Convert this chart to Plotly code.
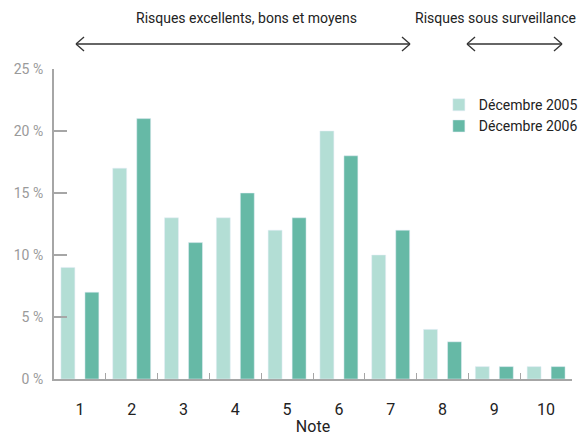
import plotly.graph_objects as go

categories = ["1", "2", "3", "4", "5", "6", "7", "8", "9", "10"]
dec_2005 = [9, 17, 13, 13, 12, 20, 10, 4, 1, 1]
dec_2006 = [7, 21, 11, 15, 13, 18, 12, 3, 1, 1]
y_tick_vals = [0, 5, 10, 15, 20, 25]
y_tick_text = ["0 %", "5 %", "10 %", "15 %", "20 %", "25 %"]

FONT = "Roboto, Liberation Sans, sans-serif"
LIGHT = "#b3ded5"
DARK = "#66b9a6"
AXIS = "#a6a6a6"

L, R, T, B = 54, 13, 69, 57
W, H = 585, 436
PW, PH = W - L - R, H - T - B

fig = go.Figure()
fig.add_bar(x=categories, y=dec_2005, name="Décembre 2005", marker_color=LIGHT)
fig.add_bar(x=categories, y=dec_2006, name="Décembre 2006", marker_color=DARK)

fig.update_layout(
    width=W, height=H,
    margin=dict(l=L, r=R, t=T, b=B, autoexpand=False),
    paper_bgcolor="white", plot_bgcolor="white",
    barmode="group", bargap=0.073, bargroupgap=0.42,
    font=dict(family=FONT, size=14, color="#222"),
    showlegend=True,
    legend=dict(x=0.743, y=0.935, xanchor="left", yanchor="top",
                font=dict(family=FONT, size=14, color="#222"),
                bgcolor="rgba(0,0,0,0)", itemwidth=30, tracegroupgap=4),
)
fig.update_xaxes(
    type="category", tickson="boundaries", ticks="inside", ticklen=6,
    tickcolor=AXIS, showline=True, linecolor=AXIS, linewidth=2, automargin=False,
    showgrid=False, tickfont=dict(family=FONT, size=16, color="#222"),
    ticklabelstandoff=15,
    title=dict(text="Note", font=dict(family=FONT, size=16, color="#222"), standoff=11),
)
fig.update_yaxes(
    range=[0, 25], tickvals=y_tick_vals, ticktext=y_tick_text, automargin=False,
    ticks="inside", ticklen=13, tickcolor=AXIS, tickwidth=2,
    showline=True, linecolor=AXIS, linewidth=2, showgrid=False, zeroline=False,
    tickfont=dict(family=FONT, size=14, color="#9a9a9a"), ticklabelstandoff=6,
)

# Top annotations with double-headed open arrows (positions in page pixels -> paper)
def px_x(px):
    return (px - L) / PW

def px_y(py):
    return (H - B - py) / PH

def double_arrow(x0, x1, y):
    col = "#333"
    w = 1.3
    return [
        dict(type="line", xref="paper", yref="paper", x0=px_x(x0), x1=px_x(x1), y0=px_y(y), y1=px_y(y), line=dict(color=col, width=w)),
        dict(type="line", xref="paper", yref="paper", x0=px_x(x0), x1=px_x(x0 + 8), y0=px_y(y), y1=px_y(y - 7), line=dict(color=col, width=w)),
        dict(type="line", xref="paper", yref="paper", x0=px_x(x0), x1=px_x(x0 + 8), y0=px_y(y), y1=px_y(y + 7), line=dict(color=col, width=w)),
        dict(type="line", xref="paper", yref="paper", x0=px_x(x1), x1=px_x(x1 - 8), y0=px_y(y), y1=px_y(y - 7), line=dict(color=col, width=w)),
        dict(type="line", xref="paper", yref="paper", x0=px_x(x1), x1=px_x(x1 - 8), y0=px_y(y), y1=px_y(y + 7), line=dict(color=col, width=w)),
    ]

shapes = double_arrow(76, 410, 44) + double_arrow(467, 562, 44)
fig.update_layout(shapes=shapes)

fig.add_annotation(text="Risques excellents, bons et moyens", xref="paper", yref="paper",
                   x=px_x(246), y=px_y(18), xanchor="center", yanchor="middle", showarrow=False,
                   font=dict(family=FONT, size=14, color="#222"))
fig.add_annotation(text="Risques sous surveillance", xref="paper", yref="paper",
                   x=px_x(578), y=px_y(18), xanchor="right", yanchor="middle", showarrow=False,
                   font=dict(family=FONT, size=14, color="#222"))

fig.write_html("out.html", config={"displayModeBar": False},
               post_script="document.body.style.margin='0';document.body.style.overflow='hidden';")
